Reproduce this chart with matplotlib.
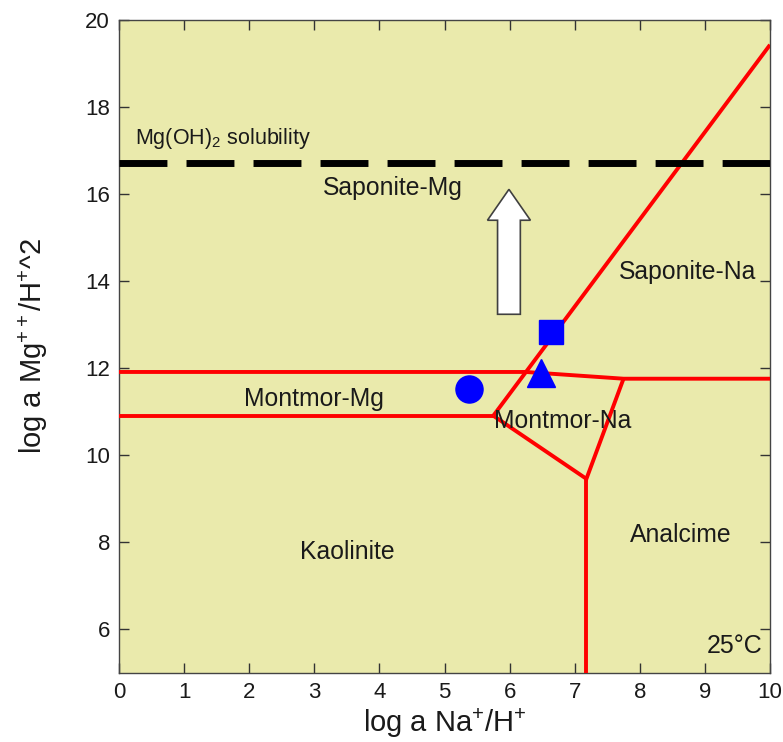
import matplotlib
matplotlib.use("Agg")
import matplotlib.pyplot as plt

plt.rcParams['font.family'] = ['Liberation Sans', 'DejaVu Sans']
plt.rcParams['mathtext.fontset'] = 'custom'
plt.rcParams['mathtext.rm'] = 'Liberation Sans'
plt.rcParams['mathtext.it'] = 'Liberation Sans:italic'
plt.rcParams['mathtext.bf'] = 'Liberation Sans:bold'

# ---- data ----
upper_x = [0.0, 6.25, 7.75, 10.0]
upper_y = [11.915, 11.915, 11.76, 11.76]
lower_x = [0.0, 5.75]
lower_y = [10.91, 10.91]
diag_x = [5.75, 10.0]
diag_y = [10.91, 19.43]
inner_x = [5.75, 7.18, 7.75]
inner_y = [10.91, 9.46, 11.76]
vert_x = [7.18, 7.18]
vert_y = [9.46, 5.0]

mgoh2_y = 16.71

circle_pt = (5.37, 11.52)
square_pt = (6.63, 12.83)
triangle_pt = (6.49, 11.90)

arrow_x = 5.99
arrow_y0 = 13.24
arrow_y1 = 16.11

labels = ["Saponite-Mg", "Saponite-Na", "Montmor-Mg", "Montmor-Na", "Kaolinite", "Analcime"]
label_x = [4.21, 8.73, 3.00, 6.81, 3.51, 8.63]
label_y = [16.14, 14.21, 11.29, 10.78, 7.77, 8.16]

xticks = list(range(0, 11))
yticks = list(range(6, 21, 2))

# ---- figure ----
fig = plt.figure(figsize=(7.83, 7.42), dpi=100)
ax = fig.add_axes([119/783, 1-673/742, 651/783, 653/742])
ax.set_facecolor('#EAEAAC')
ax.set_xlim(0, 10)
ax.set_ylim(5, 20)

red = '#FF0000'
lw = 2.8
for xs, ys in [(upper_x, upper_y), (lower_x, lower_y), (diag_x, diag_y),
               (inner_x, inner_y), (vert_x, vert_y)]:
    ax.plot(xs, ys, color=red, lw=lw, solid_capstyle='butt', solid_joinstyle='miter', zorder=3)

ax.axhline(mgoh2_y, color='black', lw=5, linestyle=(0, (6.9, 2.75)),
           dash_capstyle='butt', zorder=3)

ax.plot(*circle_pt, marker='o', ms=19.5, color='#0000FF', mec='#0000FF', zorder=5)
ax.plot(*square_pt, marker='s', ms=17.5, color='#0000FF', mec='#0000FF', zorder=5)
ax.plot(*triangle_pt, marker='^', ms=19.5, color='#0000FF', mec='#0000FF', zorder=5)

ax.arrow(arrow_x, arrow_y0, 0, arrow_y1 - arrow_y0, width=0.35, head_width=0.66,
         head_length=0.71, length_includes_head=True, fc='white', ec='#404040',
         lw=1.2, zorder=4)

tc = '#1a1a1a'
for t, x, y in zip(labels, label_x, label_y):
    ax.text(x, y, t, ha='center', va='center', fontsize=17.8, color=tc, zorder=6)

ax.text(0.25, 17.27, r'Mg(OH)$_2$ solubility', ha='left', va='center', fontsize=15.5, color=tc)
ax.text(9.89, 5.61, '25°C', ha='right', va='center', fontsize=18, color=tc)

ax.set_xticks(xticks)
ax.set_yticks(yticks)
ax.tick_params(direction='in', length=7, width=1, top=True, right=True,
               labelsize=16, pad=6.5, colors='#333333', labelcolor=tc)
for s in ax.spines.values():
    s.set_color('#444444')
    s.set_linewidth(1.0)

ax.set_xlabel(r'log a Na$^{+}$/H$^{+}$', fontsize=21, color=tc)
ax.set_ylabel(r'log a Mg$^{++}$/H$^{+}$^2', fontsize=21, color=tc)
ax.xaxis.set_label_coords(0.5, -0.051)
ax.yaxis.set_label_coords(-0.106, 0.5)

fig.savefig('out.png', dpi=100, facecolor='white')
